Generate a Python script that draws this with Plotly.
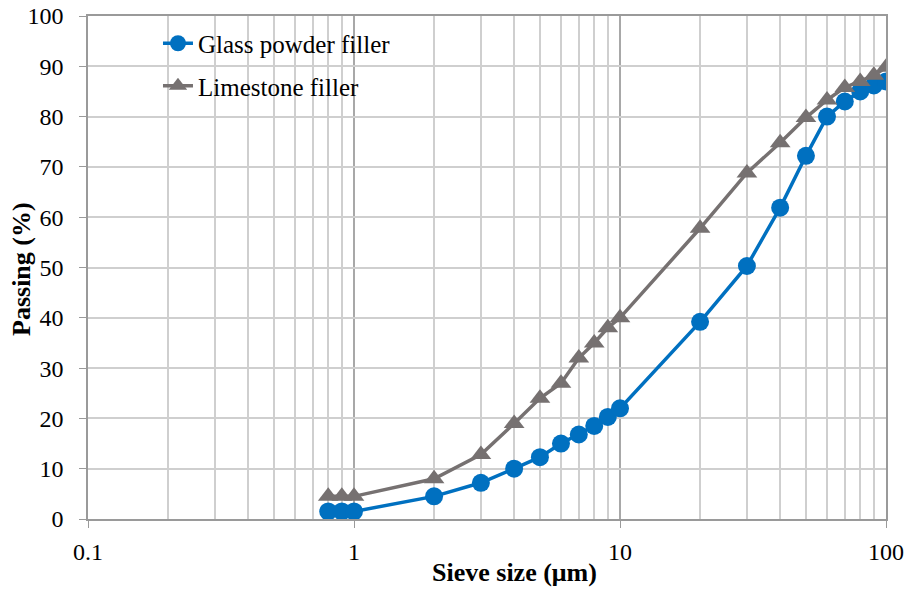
import plotly.graph_objects as go

sieve = [0.8, 0.9, 1, 2, 3, 4, 5, 6, 7, 8, 9, 10, 20, 30, 40, 50, 60, 70, 80, 90, 100]
glass = [1.5, 1.5, 1.5, 4.5, 7.2, 10.0, 12.3, 15.0, 16.8, 18.5, 20.3, 22.0, 39.2, 50.3, 61.9, 72.2, 80.0, 83.0, 85.0, 86.2, 87.0]
limestone = [4.5, 4.5, 4.5, 8.0, 12.8, 19.0, 24.0, 27.0, 32.0, 35.0, 38.0, 40.0, 57.8, 68.8, 74.8, 79.8, 83.3, 85.8, 87.0, 88.2, 89.8]
x_ticks = [0.1, 1, 10, 100]
x_tick_labels = ["0.1", "1", "10", "100"]
y_ticks = list(range(0, 101, 10))

font = "Liberation Serif"
major_grid = "#A8A8A8"
minor_grid = "#CFCFCF"
axis_col = "#9A9A9A"

fig = go.Figure()
fig.add_trace(go.Scatter(x=sieve, y=glass, mode="lines+markers", name="Glass powder filler",
                         legendgroup="g", line=dict(color="#0070C0", width=3.5),
                         marker=dict(symbol="circle", size=18, color="#0070C0")))
fig.add_trace(go.Scatter(x=sieve, y=limestone, mode="lines+markers", name="Limestone filler",
                         legendgroup="l", line=dict(color="#767171", width=3.5),
                         marker=dict(symbol="triangle-up", size=18, color="#767171")))

# white legend panel hiding gridlines (between grid and traces)
fig.add_shape(type="rect", xref="paper", yref="paper", x0=0.0125, x1=0.431, y0=0.817, y1=0.986,
              fillcolor="white", line=dict(width=0), layer="between")

# axis titles (placed as in the reference)
fig.add_annotation(text="<b>Sieve size (μm)</b>", xref="paper", yref="paper", x=0.535, y=-0.107,
                   xanchor="center", yanchor="middle", showarrow=False,
                   font=dict(family=font, size=26, color="black"))
fig.add_annotation(text="<b>Passing (%)</b>", xref="paper", yref="paper", x=-0.084, y=0.497,
                   xanchor="center", yanchor="middle", showarrow=False, textangle=-90,
                   font=dict(family=font, size=26, color="black"))

fig.update_layout(
    width=913, height=593,
    margin=dict(l=88, r=27, t=16, b=74, autoexpand=False),
    paper_bgcolor="white", plot_bgcolor="white",
    font=dict(family=font, size=24, color="black"),
    showlegend=True,
    legend=dict(x=0.0877, y=0.991, xanchor="left", yanchor="top", bgcolor="rgba(0,0,0,0)",
                font=dict(family=font, size=25), tracegroupgap=7, traceorder="grouped"),
    xaxis=dict(type="log", range=[-1, 2], tickvals=x_ticks, ticktext=x_tick_labels,
               showgrid=True, gridcolor=major_grid, gridwidth=1.5,
               minor=dict(showgrid=True, gridcolor=minor_grid, gridwidth=1.5,
                          tickvals=[a * b for a in (0.1, 1, 10) for b in range(2, 10)]),
               showline=True, linecolor=axis_col, linewidth=1.5, mirror=True, automargin=False,
               ticks="outside", ticklen=7, tickcolor=axis_col, zeroline=False,
               ticklabelstandoff=3, ticklabeloverflow="allow"),
    yaxis=dict(range=[0, 100], tickvals=y_ticks, showgrid=True, gridcolor=minor_grid, gridwidth=1.5,
               showline=True, linecolor=axis_col, linewidth=1.5, mirror=True, automargin=False,
               ticks="outside", ticklen=7, tickcolor=axis_col, zeroline=False,
               ticklabelstandoff=11, ticklabeloverflow="allow"),
)
fig.write_html("out.html", config={"displayModeBar": False},
               post_script="document.body.style.margin='0';document.body.style.overflow='hidden';")
